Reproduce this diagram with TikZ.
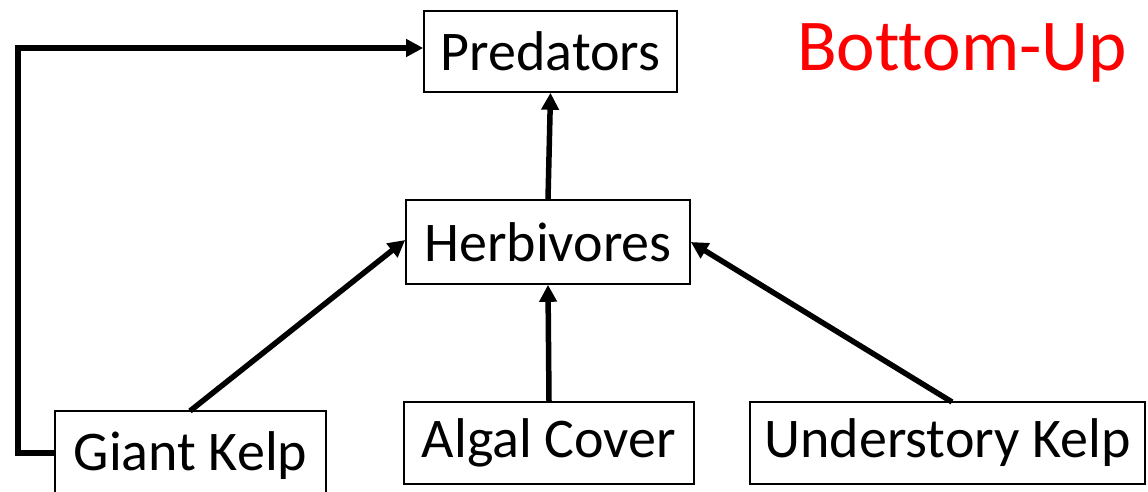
\documentclass[tikz,border=0pt]{standalone}
\usepackage{fontspec}
\setmainfont{Carlito}[Ligatures=NoCommon]
\usetikzlibrary{arrows.meta}
\begin{document}
\begin{tikzpicture}[x=1pt,y=-1pt,
  box/.style={draw, line width=1.6pt, inner sep=0pt, font=\fontsize{56}{62}\selectfont},
  arr/.style={line width=5.5pt, -{Triangle[length=17pt,width=17pt]}}]
\useasboundingbox (0,0) rectangle (1148,492);
\clip (0,0) rectangle (1148,492);
\node[box, minimum width=253pt, minimum height=81pt] (pred) at (550.5,51.5) {Predators};
\node[box, minimum width=284pt, minimum height=84pt] (herb) at (548,242) {Herbivores};
\node[box, minimum width=271pt, minimum height=90pt] (giant) at (190.5,456) {Giant Kelp};
\node[box, minimum width=290pt, minimum height=82pt] (algal) at (549,443) {Algal Cover};
\node[box, minimum width=395pt, minimum height=82pt] (under) at (947.5,443) {Understory Kelp};
\node[text=red, font=\fontsize{73}{80}\selectfont, inner sep=0pt] (title) at (962,53) {Bottom-Up};
\coordinate (c1) at (18,453);
\coordinate (c2) at (18,48);
\draw[arr] (giant.west |- 0,453) -- (c1) -- (c2) -- (pred.west |- 0,48);
\draw[arr] (herb.north) -- (pred.south);
\draw[arr] (190,411) -- (herb.west |- 0,240);
\draw[arr] (algal.north) -- (herb.south);
\draw[arr] (952,402) -- (herb.east |- 0,242);
\end{tikzpicture}
\end{document}
